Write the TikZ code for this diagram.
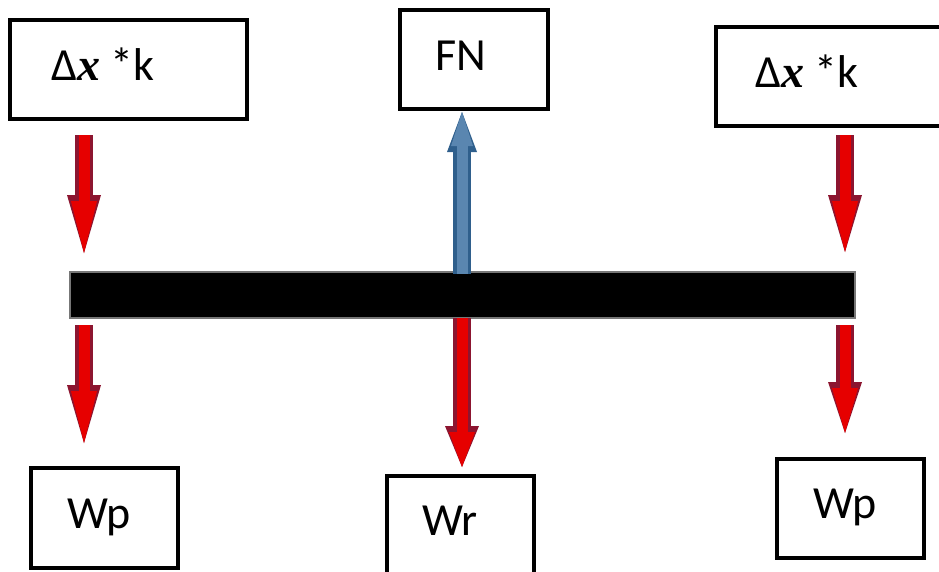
\documentclass[tikz,border=0pt]{standalone}
\usepackage{fontspec}
\setmainfont{Carlito}
\newfontfamily\serifx{Liberation Serif}
\usetikzlibrary{arrows.meta}
\definecolor{redfill}{HTML}{E60000}
\definecolor{redline}{HTML}{8C1530}
\definecolor{bluefill}{HTML}{5A86B0}
\definecolor{blueline}{HTML}{2F5F8C}
\definecolor{beamedge}{HTML}{777777}
\newcommand{\dxk}{Δ{\serifx\bfseries\itshape x} *k}
\tikzset{
  box/.style={draw=black, line width=3.5pt, fill=white, inner sep=0pt},
  lbl/.style={inner sep=0pt, anchor=base, font=\fontsize{46}{50}\selectfont},
  beamstyle/.style={draw=beamedge, fill=black, line width=2.5pt, inner sep=0pt},
  redarrow/.style 2 args={
    preaction={draw=redline, line width=18pt,
      -{Triangle[length=#1pt, width=34pt, line width=0pt]}},
    draw=redfill, line width=11pt,
    -{Triangle[length=#2pt, width=26pt, line width=0pt]}},
  bluearrow/.style 2 args={
    preaction={draw=blueline, line width=18pt,
      -{Triangle[length=#1pt, width=30pt, line width=0pt]}},
    draw=bluefill, line width=11pt,
    -{Triangle[length=#2pt, width=22pt, line width=0pt]}}
}
\begin{document}
\begin{tikzpicture}[x=1pt, y=-1pt]
\useasboundingbox (0,0) rectangle (939,571);
\clip (0,0) rectangle (939,571);

% boxes
\node[box, minimum width=237pt, minimum height=99pt] (tl) at (128.5,69.5) {};
\node[box, minimum width=148pt, minimum height=99pt] (fn) at (474,59.5) {};
\node[box, minimum width=230pt, minimum height=99pt] (tr) at (831,76.5) {};
\node[box, minimum width=147pt, minimum height=100pt] (wpl) at (104.5,518) {};
\node[box, minimum width=147pt, minimum height=104pt] (wr) at (460.5,528) {};
\node[box, minimum width=147pt, minimum height=99pt] (wpr) at (850.5,508.5) {};

% texts
\node[lbl] (tltext) at (103,80) {\dxk};
\node[lbl] (fntext) at (461,70) {FN};
\node[lbl] (trtext) at (807,87) {\dxk};
\node[lbl] (wpltext) at (99,528) {Wp};
\node[lbl] (wrtext) at (450,535) {Wr};
\node[lbl] (wprtext) at (845,518) {Wp};

% beam
\node[beamstyle, minimum width=785pt, minimum height=46pt] (beam) at (462.5,295) {};

% arrow end points
\coordinate (a1s) at (84,135);  \coordinate (a1e) at (84,253);
\coordinate (a2s) at (845,135); \coordinate (a2e) at (845,252);
\coordinate (a3s) at (84,325);  \coordinate (a3e) at (84,443);
\coordinate (a4s) at (462,318); \coordinate (a4e) at (462,467);
\coordinate (a5s) at (845,325); \coordinate (a5e) at (845,433);
\coordinate (b1s) at (462,274); \coordinate (b1e) at (462,112);

% arrows
\draw[redarrow={58}{52}] (a1s) -- (a1e);
\draw[redarrow={57}{51}] (a2s) -- (a2e);
\draw[redarrow={58}{52}] (a3s) -- (a3e);
\draw[redarrow={41}{35}] (a4s) -- (a4e);
\draw[redarrow={51}{45}] (a5s) -- (a5e);
\draw[bluearrow={40}{34}] (b1s) -- (b1e);
\end{tikzpicture}
\end{document}
